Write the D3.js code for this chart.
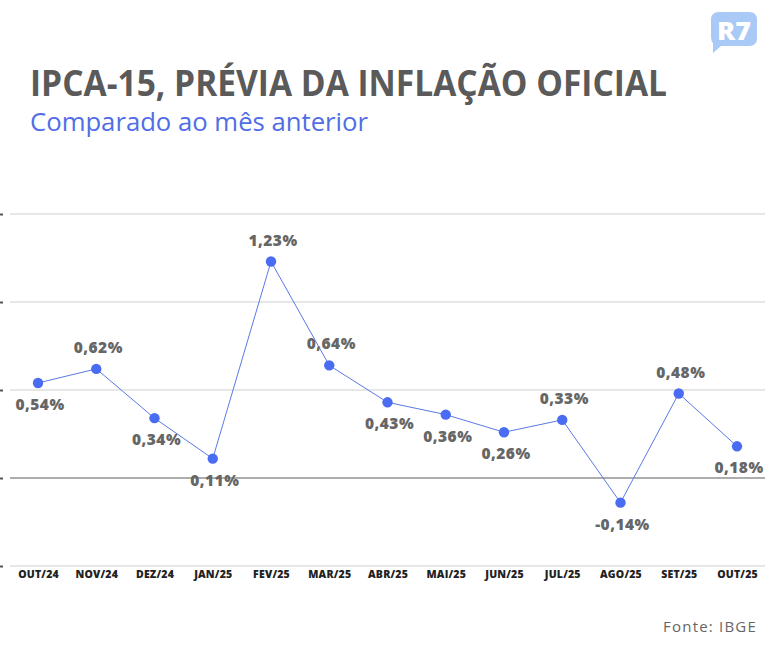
<!DOCTYPE html>
<html>
<head>
<meta charset="utf-8">
<script src="https://cdn.jsdelivr.net/npm/d3@7"></script>
<style>
  html, body { margin: 0; padding: 0; background: #fff; }
  svg { display: block; }
</style>
</head>
<body>
<svg id="chart" width="770" height="650"></svg>
<script>
var months = ['OUT/24', 'NOV/24', 'DEZ/24', 'JAN/25', 'FEV/25', 'MAR/25', 'ABR/25',
              'MAI/25', 'JUN/25', 'JUL/25', 'AGO/25', 'SET/25', 'OUT/25'];
var values = [0.54, 0.62, 0.34, 0.11, 1.23, 0.64, 0.43, 0.36, 0.26, 0.33, -0.14, 0.48, 0.18];
// where the value label sits: 1 = above the dot, -1 = below
var labelSide = [-1, 1, -1, -1, 1, 1, -1, -1, -1, 1, -1, 1, -1];
var yTicks = [-0.5, 0, 0.5, 1, 1.5];

var svg = d3.select('#chart');

// pt-BR style: comma decimal, plain hyphen for minus
var fmt = function(v){
  return (v < 0 ? '-' : '') + Math.abs(v).toFixed(2).replace('.', ',') + '%';
};

// header
svg.append('text')
  .attr('x', 30).attr('y', 96)
  .attr('textLength', 637).attr('lengthAdjust', 'spacingAndGlyphs')
  .style('font-family', '"Open Sans", sans-serif')
  .style('font-weight', 700)
  .style('font-size', '35px')
  .style('fill', '#5a5a5a')
  .text('IPCA-15, PRÉVIA DA INFLAÇÃO OFICIAL');

svg.append('text')
  .attr('x', 30).attr('y', 131)
  .attr('textLength', 338).attr('lengthAdjust', 'spacingAndGlyphs')
  .style('font-family', '"Open Sans", sans-serif')
  .style('font-size', '25px')
  .style('fill', '#4f6ee6')
  .text('Comparado ao mês anterior');

// R7 logo
var logo = svg.append('g').attr('transform', 'translate(711,12)');
logo.append('path')
  .attr('d', 'M8,0 H38 Q46,0 46,8 V26 Q46,34 38,34 H10 L2,41 L2,31 Q0,29 0,25 V8 Q0,0 8,0 Z')
  .style('fill', '#a9c9f6');
logo.append('text')
  .attr('x', 23).attr('y', 27.5)
  .attr('text-anchor', 'middle')
  .attr('textLength', 34).attr('lengthAdjust', 'spacingAndGlyphs')
  .style('font-family', '"Open Sans", sans-serif')
  .style('font-weight', 800)
  .style('font-size', '25px')
  .style('fill', '#fff')
  .text('R7');

// scales
var x = d3.scalePoint().domain(months).range([38, 737]);
var y = d3.scaleLinear().domain([-0.5, 1.5]).range([566, 214]);

// gridlines
svg.append('g').selectAll('line')
  .data(yTicks)
  .enter().append('line')
  .attr('x1', 10).attr('x2', 765)
  .attr('y1', function(d){ return y(d); })
  .attr('y2', function(d){ return y(d); })
  .style('stroke', function(d){ return d === 0 ? '#5c5c5c' : '#d0d0d0'; })
  .style('stroke-width', 1.2);

// leftover y ticks at the left edge (labels fall outside the picture)
var yAxis = d3.axisLeft(y).tickValues(yTicks).tickSize(3).tickFormat('');
var gy = svg.append('g')
  .attr('transform', 'translate(3,0)')
  .call(yAxis);
gy.select('.domain').remove();
gy.selectAll('line').style('stroke', '#555').style('stroke-width', 2);

// x axis labels
var xAxis = d3.axisBottom(x).tickSize(0).tickPadding(0);
var gx = svg.append('g')
  .attr('transform', 'translate(0,571)')
  .call(xAxis);
gx.select('.domain').remove();
gx.selectAll('text')
  .style('font-family', '"Open Sans", sans-serif')
  .style('font-weight', 800)
  .style('font-size', '10.5px')
  .style('letter-spacing', '0.2px')
  .style('fill', '#222');

// line + dots
var line = d3.line()
  .x(function(d, i){ return x(months[i]); })
  .y(function(d){ return y(d); });

svg.append('path')
  .datum(values)
  .attr('d', line)
  .style('fill', 'none')
  .style('stroke', '#5b79e4')
  .style('stroke-width', 1);

svg.append('g').selectAll('circle')
  .data(values)
  .enter().append('circle')
  .attr('cx', function(d, i){ return x(months[i]); })
  .attr('cy', function(d){ return y(d); })
  .attr('r', 5.2)
  .style('fill', '#4a6cf2');

// value labels
svg.append('g').selectAll('text')
  .data(values)
  .enter().append('text')
  .attr('x', function(d, i){ return x(months[i]) + 2; })
  .attr('y', function(d, i){ return y(d) + (labelSide[i] > 0 ? -16 : 27); })
  .attr('text-anchor', 'middle')
  .style('font-family', '"Open Sans", sans-serif')
  .style('font-weight', 800)
  .style('font-size', '15.5px')
  .style('letter-spacing', '0.5px')
  .style('fill', '#666')
  .text(fmt);

// source
svg.append('text')
  .attr('x', 757).attr('y', 632)
  .attr('text-anchor', 'end')
  .style('font-family', '"Open Sans", sans-serif')
  .style('font-weight', 400)
  .style('font-size', '15px')
  .style('letter-spacing', '1.2px')
  .style('fill', '#666')
  .text('Fonte: IBGE');
</script>
</body>
</html>
